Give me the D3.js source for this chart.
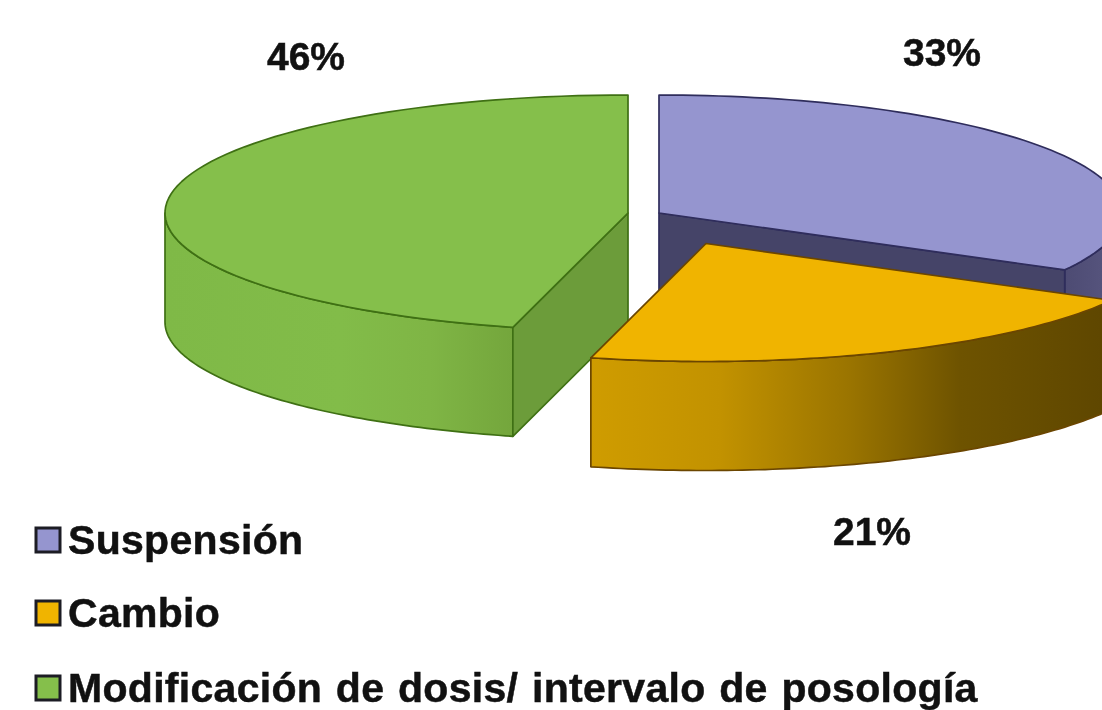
<!DOCTYPE html>
<html>
<head>
<meta charset="utf-8">
<script src="https://cdn.jsdelivr.net/npm/d3@7"></script>
<style>
html, body { margin: 0; padding: 0; background: #fff; overflow: hidden; }
svg { display: block; filter: blur(0.5px); }
text {
    font-family: "Liberation Sans", Arial, sans-serif;
    font-weight: bold;
    font-variant-ligatures: none;
    fill: #111;
    stroke: #111;
    stroke-width: 0.5px;
}
</style>
</head>
<body>
<svg id="chart" width="1102" height="710"></svg>
<script>
// chart values
var categories = ["Suspensión", "Cambio", "Modificación de dosis/ intervalo de posología"];
var values = [33, 21, 46];
var labels = ["33%", "21%", "46%"];

// look of each slice
var topColors = ["#9595cf", "#f0b400", "#85bf4b"];
var edgeColors = ["#2f2d5c", "#6b4600", "#3f7014"];
var faceColors = ["#454468", "#4a3800", "#6c9c3a"];

// where each slice was pulled out to, and where its label goes
var sliceCenters = [[659, 213], [706, 243.5], [628, 213]];
var labelSpots = [[942, 66], [872, 545], [306, 70]];
var legendBaselines = [554, 627, 702];

var radiusX = 463, radiusY = 118, depth = 109;

var svg = d3.select("#chart");
var defs = svg.append("defs");

// squashed circle, unit circle -> pixels
var xScale = d3.scaleLinear().domain([-1, 1]).range([-radiusX, radiusX]);
var yScale = d3.scaleLinear().domain([-1, 1]).range([-radiusY, radiusY]);

var pie = d3.pie().sort(null).value(function(d) { return d; });
var arcs = pie(values);

function rimPoints(a0, a1, drop) {
    var n = 80;
    return d3.range(n + 1).map(function(i) {
        var a = a0 + (a1 - a0) * i / n;
        return [xScale(Math.sin(a)), yScale(-Math.cos(a)) + drop];
    });
}

var line = d3.line();

// side gradients, stops given in page x, moved into the slice's own coordinates
function sideGradient(i, stops) {
    var left = -sliceCenters[i][0];
    var g = defs.append("linearGradient").attr("id", "side" + i)
        .attr("gradientUnits", "userSpaceOnUse")
        .attr("x1", left).attr("x2", left + 1102).attr("y1", 0).attr("y2", 0);
    stops.forEach(function(s) {
        g.append("stop").attr("offset", s[0] / 1102).attr("stop-color", s[1]);
    });
}
sideGradient(0, [[1060, "#4c4a72"], [1102, "#55537c"]]);
sideGradient(1, [[591, "#cf9c00"], [720, "#c29200"], [850, "#9a7400"], [960, "#6e5300"], [1102, "#5f4700"]]);
sideGradient(2, [[165, "#7fb947"], [340, "#82bc49"], [430, "#7fb545"], [513, "#74a63c"]]);

// back to front: purple, green, yellow
[0, 2, 1].forEach(function(i) {
    var d = arcs[i];
    var g = svg.append("g")
        .attr("transform", "translate(" + sliceCenters[i] + ")")
        .attr("stroke", edgeColors[i])
        .attr("stroke-width", 1.7)
        .attr("stroke-linejoin", "round");

    // front part of the outer wall, only where the rim faces the viewer
    var a0 = Math.max(d.startAngle, Math.PI / 2);
    var a1 = Math.min(d.endAngle, Math.PI * 1.5);
    if (a1 > a0) {
        var wall = rimPoints(a0, a1, 0).concat(rimPoints(a1, a0, depth));
        g.append("path")
            .attr("d", line(wall) + "Z")
            .attr("fill", "url(#side" + i + ")");
    }

    // cut face that can be seen from the front
    var faceAngle = i == 2 ? d.startAngle : d.endAngle;
    if (i != 1) {
        var p = rimPoints(faceAngle, faceAngle, 0)[0];
        g.append("path")
            .attr("d", line([[0, 0], p, [p[0], p[1] + depth], [0, depth]]) + "Z")
            .attr("fill", faceColors[i]);
    }

    // top
    var rim = rimPoints(d.startAngle, d.endAngle, 0);
    g.append("path")
        .attr("d", line([[0, 0]].concat(rim)) + "Z")
        .attr("fill", topColors[i]);
});

// percent labels
svg.selectAll("text.pct")
    .data(labels)
    .enter()
    .append("text")
    .attr("class", "pct")
    .attr("text-anchor", "middle")
    .attr("font-size", 39)
    .attr("x", function(d, i) { return labelSpots[i][0]; })
    .attr("y", function(d, i) { return labelSpots[i][1]; })
    .text(function(d) { return d; });

// legend
var legend = svg.selectAll("g.legend")
    .data(categories)
    .enter()
    .append("g")
    .attr("class", "legend");

legend.append("rect")
    .attr("x", 36)
    .attr("y", function(d, i) { return legendBaselines[i] - 26; })
    .attr("width", 24)
    .attr("height", 24)
    .attr("fill", function(d, i) { return topColors[i]; })
    .attr("stroke", "#1c1c24")
    .attr("stroke-width", 3);

legend.append("text")
    .attr("x", 68)
    .attr("y", function(d, i) { return legendBaselines[i]; })
    .attr("font-size", 41)
    .attr("letter-spacing", 0.3)
    .attr("word-spacing", 2)
    .text(function(d) { return d; });
</script>
</body>
</html>
